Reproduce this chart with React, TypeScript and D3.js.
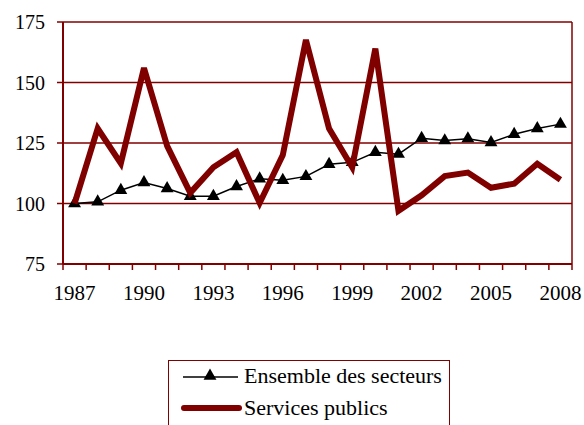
import React from "react";
import * as d3 from "d3";

const years = d3.range(1987, 2009).map(String);
const ensemble = [100, 100.7, 105.5, 108.7, 106.2, 103, 103, 107, 110.2, 109.6, 111.2, 116.2, 117, 121.2, 120.4, 127, 126, 126.8, 125.2, 128.6, 131, 132.8];
const services = [100, 131, 116.6, 156, 123.8, 104.4, 115, 121.2, 100.2, 120, 167.6, 131, 115, 164, 97, 103.4, 111.3, 112.8, 106.5, 108.2, 116.4, 109.8];
const yTicks = [75, 100, 125, 150, 175];
const labelYears = ["1987", "1990", "1993", "1996", "1999", "2002", "2005", "2008"];
const seriesNames = ["Ensemble des secteurs", "Services publics"];

const W = 584, H = 425;
const L = 63, R = 572, T = 22, B = 264;
const RED = "#800000";
const FONT = "'Liberation Serif', Tinos, 'Times New Roman', serif";

export default function App() {
  const x = d3.scaleBand().domain(years).range([L, R]);
  const y = d3.scaleLinear().domain([75, 175]).range([B, T]);
  const cx = (d: string) => (x(d) as number) + x.bandwidth() / 2;
  const line = d3.line<number>().x((_, i) => cx(years[i])).y((v) => y(v));
  const tri = d3.symbol().type(d3.symbolTriangle).size(72)();
  const boundaries = d3.range(years.length + 1).map((i) => L + i * x.step());

  return (
    <svg width={W} height={H} style={{ position: "absolute", left: 0, top: 0, background: "#fff" }}>
      <rect x={0} y={0} width={W} height={H} fill="#fff" />
      {yTicks.map((t) => (
        <g key={t}>
          <line x1={L - 6} x2={R} y1={y(t)} y2={y(t)} stroke={RED} strokeWidth={1.5} />
          <text x={45} y={y(t)} dy="0.35em" textAnchor="end" fontFamily={FONT} fontSize={20} fill="#000">{t}</text>
        </g>
      ))}
      <line x1={L} x2={L} y1={T} y2={B} stroke={RED} strokeWidth={2} />
      <line x1={R} x2={R} y1={T} y2={B} stroke={RED} strokeWidth={1.5} />
      <line x1={L} x2={R} y1={B} y2={B} stroke={RED} strokeWidth={2} />
      {boundaries.map((bx, i) => (
        <line key={i} x1={bx} x2={bx} y1={B} y2={B + 6} stroke={RED} strokeWidth={1.5} />
      ))}
      {labelYears.map((yr) => (
        <text key={yr} x={cx(yr)} y={300} textAnchor="middle" fontFamily={FONT} fontSize={21} fill="#000">{yr}</text>
      ))}
      <path d={line(ensemble) as string} fill="none" stroke="#000" strokeWidth={1.5} />
      {ensemble.map((v, i) => (
        <path key={i} d={tri as string} transform={`translate(${cx(years[i])},${y(v)})`} fill="#000" />
      ))}
      <path d={line(services) as string} fill="none" stroke={RED} strokeWidth={6} strokeLinejoin="miter" strokeMiterlimit={3} />
      <rect x={168.5} y={360.5} width={281} height={80} fill="#fff" stroke={RED} strokeWidth={1} />
      <line x1={183} x2={238} y1={377} y2={377} stroke="#000" strokeWidth={1.5} />
      <path d={tri as string} transform="translate(210,376)" fill="#000" />
      <text x={244} y={383} fontFamily={FONT} fontSize={22} fill="#000">{seriesNames[0]}</text>
      <line x1={184} x2={239} y1={408} y2={408} stroke={RED} strokeWidth={6} strokeLinecap="round" />
      <text x={244} y={415} fontFamily={FONT} fontSize={22} fill="#000">{seriesNames[1]}</text>
    </svg>
  );
}
